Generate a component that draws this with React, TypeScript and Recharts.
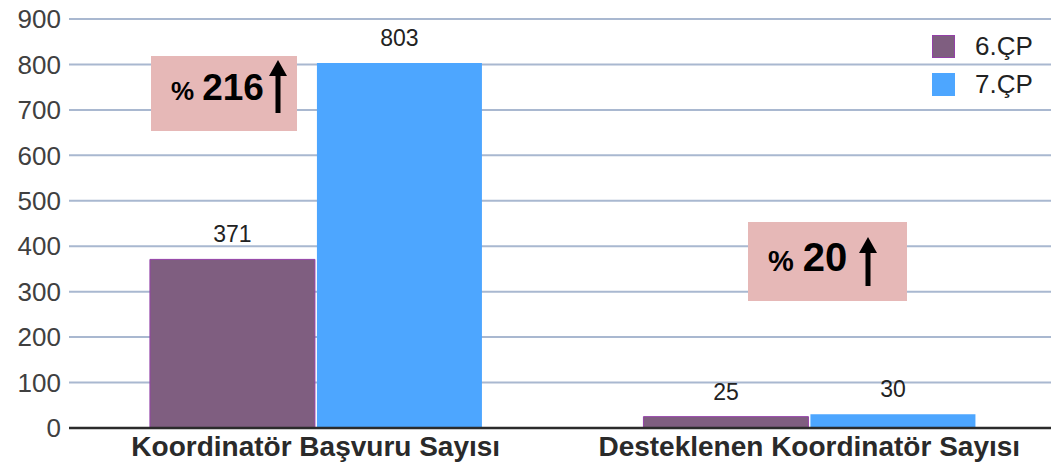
import React from 'react';
import { BarChart, Bar, XAxis, YAxis, CartesianGrid, LabelList } from 'recharts';

const categories = ['Koordinatör Başvuru Sayısı', 'Desteklenen Koordinatör Sayısı'];
const series6 = [371, 25];
const series7 = [803, 30];
const yTicks = [0, 100, 200, 300, 400, 500, 600, 700, 800, 900];
const seriesNames = ['6.ÇP', '7.ÇP'];
const increases = ['216', '20'];

const data = categories.map((c, i) => ({ name: c, s6: series6[i], s7: series7[i] }));

const FONT = '"Liberation Sans", Arial, Helvetica, sans-serif';

const Arrow = ({ h }: { h: number }) => (
  <svg width={18} height={h} style={{ display: 'block' }}>
    <polygon points={`9,0 18,16 11.5,16 11.5,${h} 6.5,${h} 6.5,16 0,16`} fill="#000" />
  </svg>
);

export default function App() {
  return (
    <div style={{ position: 'absolute', left: 0, top: 0, width: 1051, height: 468, background: '#fff', fontFamily: FONT, overflow: 'hidden' }}>
      <BarChart
        width={1056}
        height={468}
        data={data}
        margin={{ top: 19, right: 0, bottom: 0, left: 0 }}
        barCategoryGap="16.4%"
        barGap={2}
      >
        <CartesianGrid vertical={false} stroke="#a9b8d0" strokeWidth={2} />
        <YAxis
          domain={[0, 900]}
          ticks={yTicks}
          width={69}
          axisLine={false}
          tickLine={false}
          tickSize={6}
          tickMargin={2}
          tick={{ fill: '#404040', fontSize: 26, fontFamily: FONT }}
          interval={0}
        />
        <XAxis
          dataKey="name"
          height={40}
          axisLine={{ stroke: '#2b2b2b', strokeWidth: 2.5 }}
          tickLine={false}
          tick={{ fill: '#2a2a2a', fontSize: 28, fontWeight: 'bold', fontFamily: FONT, dy: 0 }}
        />
        <Bar dataKey="s6" fill="#7f5e80" stroke="#9440a8" strokeWidth={1} isAnimationActive={false}>
          <LabelList dataKey="s6" position="top" offset={17} fill="#222" fontSize={23} fontFamily={FONT} />
        </Bar>
        <Bar dataKey="s7" fill="#4da6ff" isAnimationActive={false}>
          <LabelList dataKey="s7" position="top" offset={17} fill="#222" fontSize={23} fontFamily={FONT} />
        </Bar>
      </BarChart>

      {/* legend */}
      <div style={{ position: 'absolute', left: 932, top: 35, color: '#222', fontSize: 26 }}>
        <div style={{ display: 'flex', alignItems: 'center', height: 23, marginBottom: 15 }}>
          <div style={{ width: 23, height: 23, background: '#7f5e80', border: '1px solid #9440a8', boxSizing: 'border-box' }} />
          <span style={{ marginLeft: 20 }}>{seriesNames[0]}</span>
        </div>
        <div style={{ display: 'flex', alignItems: 'center', height: 23 }}>
          <div style={{ width: 23, height: 23, background: '#4da6ff' }} />
          <span style={{ marginLeft: 20 }}>{seriesNames[1]}</span>
        </div>
      </div>

      {/* annotation 1 */}
      <div style={{ position: 'absolute', left: 151, top: 56, width: 146, height: 75, background: '#e6b8b7' }}>
        <div style={{ position: 'absolute', left: 20, top: 11, fontWeight: 'bold', color: '#000', display: 'flex', alignItems: 'baseline' }}>
          <span style={{ fontSize: 26 }}>%</span>
          <span style={{ fontSize: 37, marginLeft: 8 }}>{increases[0]}</span>
        </div>
        <div style={{ position: 'absolute', left: 118, top: 4 }}>
          <Arrow h={53} />
        </div>
      </div>

      {/* annotation 2 */}
      <div style={{ position: 'absolute', left: 748, top: 222, width: 159, height: 79, background: '#e6b8b7' }}>
        <div style={{ position: 'absolute', left: 20, top: 13, fontWeight: 'bold', color: '#000', display: 'flex', alignItems: 'baseline' }}>
          <span style={{ fontSize: 29 }}>%</span>
          <span style={{ fontSize: 40, marginLeft: 9 }}>{increases[1]}</span>
        </div>
        <div style={{ position: 'absolute', left: 111, top: 15 }}>
          <Arrow h={49} />
        </div>
      </div>
    </div>
  );
}
